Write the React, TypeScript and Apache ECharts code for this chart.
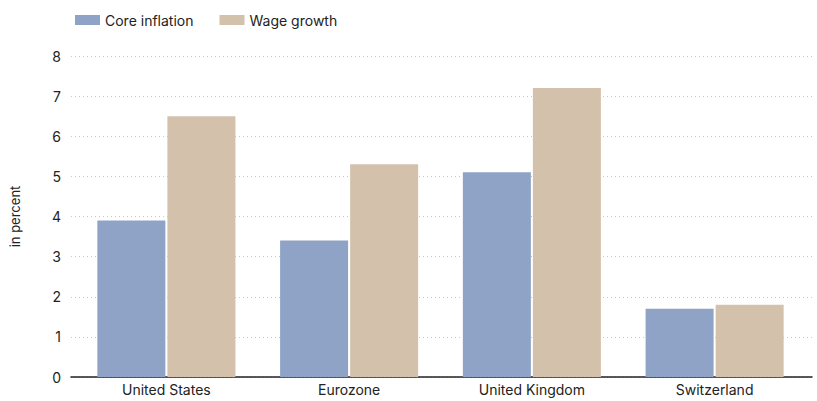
import React, { useEffect, useRef } from "react";
import * as echarts from "echarts";

const categories = ["United States", "Eurozone", "United Kingdom", "Switzerland"];
const coreInflation = [3.9, 3.4, 5.1, 1.7];
const wageGrowth = [6.5, 5.3, 7.2, 1.8];
const yTicks = { min: 0, max: 8, interval: 1 };

export default function App() {
  const ref = useRef<HTMLDivElement>(null);
  useEffect(() => {
    const chart = echarts.init(ref.current!, null, { renderer: "svg" });
    const font = "Inter, 'Liberation Sans', Arial, sans-serif";
    const fs = 14;
    chart.setOption({
      animation: false,
      textStyle: { fontFamily: font },
      legend: {
        left: 70,
        top: 8,
        itemWidth: 25,
        itemHeight: 10,
        itemGap: 26,
        icon: "rect",
        textStyle: { fontSize: fs, color: "#222", fontFamily: font },
        data: ["Core inflation", "Wage growth"],
      },
      grid: [
        { left: 68, right: 5, top: 56, bottom: 24 },
        { left: 75, right: 11, top: 56, bottom: 24 },
      ],
      xAxis: [
        {
          gridIndex: 0,
          type: "value",
          min: 0,
          max: 1,
          axisLine: { show: true, onZero: false, lineStyle: { color: "#222", width: 1.5 } },
          axisTick: { show: false },
          axisLabel: { show: false },
          splitLine: { show: false },
        },
        {
          gridIndex: 1,
          type: "category",
          data: categories,
          axisLine: { show: false },
          axisTick: { show: false },
          axisLabel: { color: "#222", fontSize: fs, margin: 5, fontFamily: font },
        },
      ],
      yAxis: [
        {
          gridIndex: 0,
          type: "value",
          min: yTicks.min,
          max: yTicks.max,
          interval: yTicks.interval,
          name: "in percent",
          nameLocation: "middle",
          nameGap: 50,
          nameTextStyle: { color: "#222", fontSize: 13, fontFamily: font },
          axisLine: { show: false },
          axisTick: { show: false },
          axisLabel: { color: "#222", fontSize: fs, margin: 10, fontFamily: font },
          splitLine: { show: true, lineStyle: { color: "#c8c8c8", type: [1, 3], width: 1 } },
        },
        {
          gridIndex: 1,
          type: "value",
          min: yTicks.min,
          max: yTicks.max,
          interval: yTicks.interval,
          show: false,
          splitLine: { show: false },
        },
      ],
      series: [
        {
          name: "Core inflation",
          type: "bar",
          xAxisIndex: 1,
          yAxisIndex: 1,
          data: coreInflation,
          barWidth: 68,
          barGap: "3%",
          itemStyle: { color: "#8fa3c6" },
        },
        {
          name: "Wage growth",
          type: "bar",
          xAxisIndex: 1,
          yAxisIndex: 1,
          data: wageGrowth,
          barWidth: 68,
          barGap: "3%",
          itemStyle: { color: "#d3c1ab" },
        },
      ],
    });
    return () => chart.dispose();
  }, []);
  return <div ref={ref} style={{ width: 817, height: 401, position: "absolute", left: 0, top: 0 }} />;
}
